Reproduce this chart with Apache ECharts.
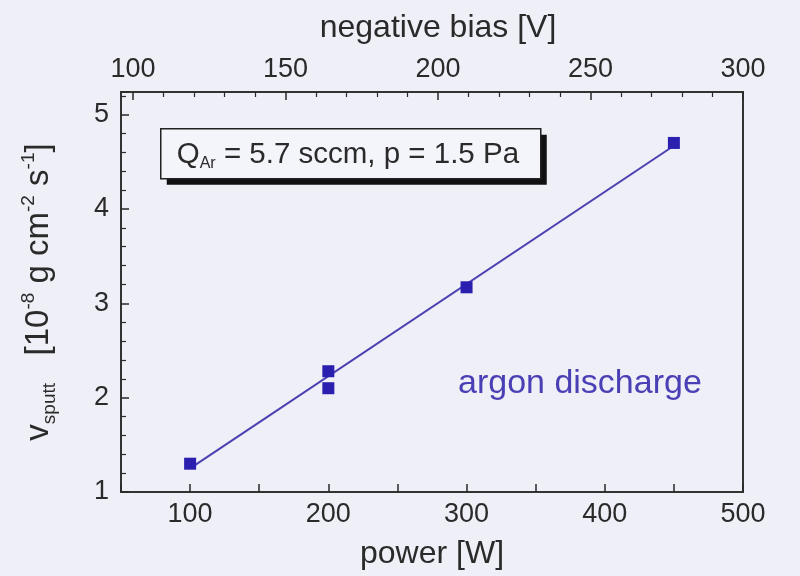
<!DOCTYPE html>
<html>
<head>
<meta charset="utf-8">
<script src="https://cdn.jsdelivr.net/npm/echarts@6/dist/echarts.min.js"></script>
<style>
  html, body { margin: 0; padding: 0; background: #efeff8; }
  #chart { width: 800px; height: 576px; }
</style>
</head>
<body>
<div id="chart"></div>
<script>
// measured points: sputter rate vs. discharge power
const power = [100, 200, 200, 300, 450];
const rate = [1.30, 2.10, 2.28, 3.17, 4.70];
// straight fit drawn through them
const fitPower = [100, 450];
const fitRate = [1.25, 4.67];

const FONT = "'Liberation Sans', Arial, sans-serif";
const INK = '#2a2a2a';
const BLUE = '#2a1fae';

const scatterData = power.map((p, i) => [p, rate[i]]);
const fitData = fitPower.map((p, i) => [p, fitRate[i]]);

const chart = echarts.init(document.getElementById('chart'));

const tickStyle = { inside: true, length: 8, lineStyle: { color: INK, width: 1.5 } };
const minorStyle = { show: true, length: 5, lineStyle: { color: INK, width: 1.2 } };
const labelStyle = { fontSize: 27, color: INK, margin: 9, fontFamily: FONT };
const nameStyle = { fontSize: 32, color: INK, fontFamily: FONT };

chart.setOption({
    backgroundColor: '#efeff8',
    animation: false,
    textStyle: { fontFamily: FONT },
    grid: [{
        left: 121, right: 57, top: 92, bottom: 84,
        show: true, borderColor: '#333', borderWidth: 2, backgroundColor: 'transparent'
    }, {
        // the bias scale starts at 100 V a little inside the frame
        left: 133, right: 57, top: 92, bottom: 84, show: false
    }],
    graphic: [{
        type: 'group', left: 160, top: 128,
        children: [{
            type: 'rect', shape: { x: 6, y: 6, width: 380, height: 50 },
            style: { fill: '#111' }
        }, {
            type: 'rect', shape: { x: 0, y: 0, width: 380, height: 50 },
            style: { fill: '#f4f4fb', stroke: '#222', lineWidth: 1.5 }
        }, {
            type: 'text', x: 16, y: 9,
            style: {
                text: '{n|Q}{s|Ar}{n| = 5.7 sccm, p = 1.5 Pa}',
                rich: {
                    n: { fontSize: 29.5, fill: INK, fontFamily: FONT, lineHeight: 34 },
                    s: { fontSize: 16, fill: INK, fontFamily: FONT, verticalAlign: 'bottom', lineHeight: 34 }
                }
            }
        }]
    }, {
        type: 'text', left: 458, top: 367,
        style: { text: 'argon discharge', fill: '#4a3fb4', font: '34px ' + FONT }
    }],
    xAxis: [{
        type: 'value', position: 'bottom', gridIndex: 0,
        min: 50, max: 500, interval: 50,
        name: 'power [W]', nameLocation: 'middle', nameGap: 46,
        nameTextStyle: nameStyle,
        axisLine: { show: false },
        axisTick: tickStyle,
        splitLine: { show: false },
        axisLabel: Object.assign({
            formatter: v => (v % 100 === 0 ? String(v) : '')
        }, labelStyle)
    }, {
        type: 'value', position: 'top', gridIndex: 1,
        min: 100, max: 300, interval: 50,
        name: 'negative bias [V]', nameLocation: 'middle', nameGap: 48,
        nameTextStyle: nameStyle,
        axisLine: { show: false },
        axisTick: tickStyle,
        minorTick: Object.assign({ splitNumber: 5 }, minorStyle),
        splitLine: { show: false },
        axisLabel: labelStyle
    }],
    yAxis: [{
        type: 'value', gridIndex: 0,
        min: 1, max: 5.24, interval: 1,
        name: '{a|v}{b|sputt}{a|   [10}{c|-8}{a| g cm}{c|-2}{a| s}{c|-1}{a|]}',
        nameLocation: 'middle', nameRotate: 90, nameGap: 62,
        nameTextStyle: {
            color: INK, fontFamily: FONT,
            rich: {
                a: { fontSize: 33, color: INK, fontFamily: FONT, lineHeight: 40 },
                b: { fontSize: 19, color: INK, fontFamily: FONT, verticalAlign: 'bottom', lineHeight: 40 },
                c: { fontSize: 19, color: INK, fontFamily: FONT, verticalAlign: 'top', lineHeight: 40 }
            }
        },
        axisLine: { show: false },
        axisTick: tickStyle,
        minorTick: Object.assign({ splitNumber: 5 }, minorStyle),
        splitLine: { show: false },
        axisLabel: Object.assign({}, labelStyle, { margin: 12, showMaxLabel: false })
    }, {
        type: 'value', gridIndex: 1, show: false, min: 1, max: 5.24
    }],
    series: [{
        type: 'line',
        data: fitData,
        showSymbol: false,
        lineStyle: { color: '#4a40b2', width: 2 },
        z: 2
    }, {
        type: 'scatter',
        data: scatterData,
        symbol: 'rect', symbolSize: 12,
        itemStyle: { color: BLUE, opacity: 1 },
        z: 3
    }]
});
</script>
</body>
</html>
